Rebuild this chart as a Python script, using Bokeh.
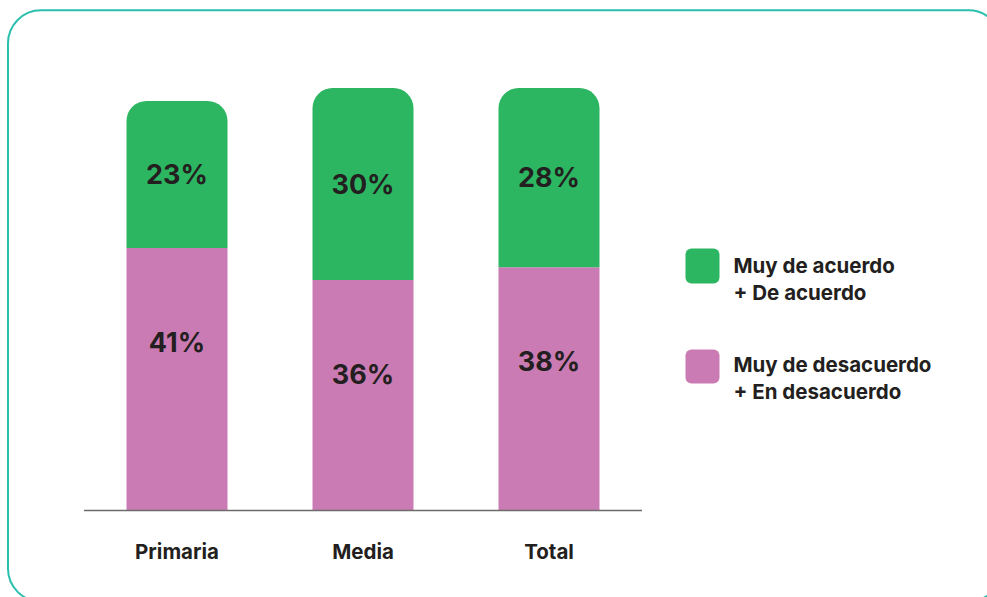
from bokeh.plotting import figure
from bokeh.models import Range1d
from bokeh.core.properties import value
from bokeh.embed import file_html
from bokeh.resources import INLINE

# ---- data ----
categories = ["Primaria", "Media", "Total"]
acuerdo = [23, 30, 28]          # Muy de acuerdo + De acuerdo
desacuerdo = [41, 36, 38]       # Muy de desacuerdo + En desacuerdo
legend_acuerdo = ["Muy de acuerdo", "+ De acuerdo"]
legend_desacuerdo = ["Muy de desacuerdo", "+ En desacuerdo"]

# ---- layout (pixel mapping) ----
W, H = 987, 597
X0PX, XSTEP = 176.5, 186.0   # px of first category, px per category
Y0PX, YSTEP = 510.0, 6.4     # px of baseline, px per percent

def xd(px):   # px -> data x
    return (px - X0PX) / XSTEP

def yd(py):   # px -> data y
    return (Y0PX - py) / YSTEP

GREEN = "#2cb661"
PINK = "#cb7bb3"
TEXT = "#231f20"
FONT = value("Inter")

p = figure(width=W, height=H,
           x_range=Range1d(xd(0), xd(W)),
           y_range=Range1d(yd(H), yd(0)),
           x_axis_type=None, y_axis_type=None,
           output_backend="svg", toolbar_location=None, min_border=0)
p.grid.visible = False
p.outline_line_color = None
p.background_fill_color = "white"
p.border_fill_color = "white"

# outer rounded frame
p.quad(left=xd(7.5), right=xd(1001), top=yd(9.8), bottom=yd(601),
       fill_color=None, line_color="#2bbfae", line_width=2, border_radius=33)

idx = list(range(len(categories)))
bw = 101 / XSTEP
tops = [d + a for d, a in zip(desacuerdo, acuerdo)]

p.vbar(x=idx, bottom=0, top=desacuerdo, width=bw, fill_color=PINK, line_color=None)
p.vbar(x=idx, bottom=desacuerdo, top=tops, width=bw, fill_color=GREEN, line_color=None,
       border_radius=(20, 20, 0, 0))

# baseline
p.segment(x0=[idx[0] - 0.5], y0=[0], x1=[idx[-1] + 0.5], y1=[0],
          line_color="#6b6b6b", line_width=1.5)

# value labels
p.text(x=idx, y=[d + a / 2 for d, a in zip(desacuerdo, acuerdo)],
       text=[f"{a}%" for a in acuerdo], text_align="center", text_baseline="middle",
       text_font=FONT, text_font_style="bold", text_font_size="27px", text_color=TEXT)
p.text(x=idx, y=[d - 14.7 for d in desacuerdo],
       text=[f"{d}%" for d in desacuerdo], text_align="center", text_baseline="middle",
       text_font=FONT, text_font_style="bold", text_font_size="27px", text_color=TEXT)

# category labels
p.text(x=idx, y=[yd(551)] * len(idx), text=categories, text_align="center",
       text_baseline="middle", text_font=FONT, text_font_style="bold",
       text_font_size="20.5px", text_color=TEXT)

# legend
p.quad(left=[xd(685)], right=[xd(719)], top=[yd(248)], bottom=[yd(283)],
       fill_color=GREEN, line_color=None, border_radius=6)
p.quad(left=[xd(685)], right=[xd(719)], top=[yd(349)], bottom=[yd(383)],
       fill_color=PINK, line_color=None, border_radius=6)
p.text(x=[xd(733)] * 4, y=[yd(265), yd(292), yd(364), yd(391)],
       text=legend_acuerdo + legend_desacuerdo, text_align="left", text_baseline="middle",
       text_font=FONT, text_font_style="bold", text_font_size="20.5px", text_color=TEXT)

open("out.html", "w").write(file_html(p, INLINE))
